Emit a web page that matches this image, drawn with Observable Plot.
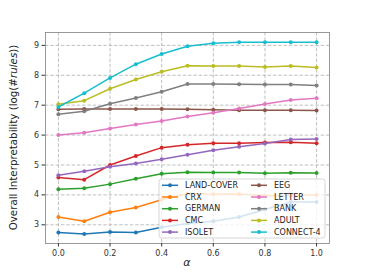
<!DOCTYPE html>
<html>
<head>
<meta charset="utf-8">
<script src="https://cdn.jsdelivr.net/npm/d3@7"></script>
<script src="https://cdn.jsdelivr.net/npm/@observablehq/plot@0.6"></script>
<style>
  html, body { margin: 0; padding: 0; background: #fff; }
  #wrap { position: relative; width: 366px; height: 274px; font-family: "DejaVu Sans", sans-serif; }
</style>
</head>
<body>
<div id="wrap"></div>
<script>
const alphas = [0.0, 0.1, 0.2, 0.3, 0.4, 0.5, 0.6, 0.7, 0.8, 0.9, 1.0];
const xTicks = [0.0, 0.2, 0.4, 0.6, 0.8, 1.0];
const yTicks = [3, 4, 5, 6, 7, 8, 9];
const seriesNames = ["LAND-COVER", "CRX", "GERMAN", "CMC", "ISOLET", "EEG", "LETTER", "BANK", "ADULT", "CONNECT-4"];
const seriesColors = ["#1f77b4", "#ff7f0e", "#2ca02c", "#d62728", "#9467bd", "#8c564b", "#e377c2", "#7f7f7f", "#bcbd22", "#17becf"];
const landCover = [2.74, 2.69, 2.76, 2.74, 2.92, 3.04, 3.12, 3.26, 3.51, 3.76, 3.76];
const crx       = [3.26, 3.12, 3.42, 3.58, 3.84, 4.05, 4.02, 4.03, 3.97, 3.99, 4.00];
const german    = [4.19, 4.22, 4.36, 4.54, 4.71, 4.76, 4.75, 4.75, 4.72, 4.74, 4.73];
const cmc       = [4.58, 4.51, 5.00, 5.30, 5.58, 5.68, 5.73, 5.73, 5.75, 5.76, 5.73];
const isolet    = [4.66, 4.79, 4.94, 5.05, 5.19, 5.34, 5.49, 5.61, 5.72, 5.85, 5.87];
const eeg       = [6.86, 6.87, 6.87, 6.87, 6.87, 6.86, 6.85, 6.83, 6.83, 6.83, 6.82];
const letter    = [6.00, 6.08, 6.22, 6.35, 6.47, 6.62, 6.75, 6.89, 7.04, 7.17, 7.23];
const bank      = [6.70, 6.80, 7.05, 7.24, 7.45, 7.71, 7.71, 7.70, 7.69, 7.69, 7.66];
const adult     = [7.03, 7.15, 7.55, 7.86, 8.12, 8.32, 8.31, 8.31, 8.28, 8.31, 8.26];
const connect4  = [6.94, 7.40, 7.91, 8.37, 8.71, 8.97, 9.07, 9.10, 9.10, 9.10, 9.10];
const seriesValues = [landCover, crx, german, cmc, isolet, eeg, letter, bank, adult, connect4];

const rows = [];
seriesNames.forEach((name, i) => {
  alphas.forEach((a, j) => rows.push({series: name, alpha: a, value: seriesValues[i][j]}));
});

const W = 366, H = 274;
const ml = 45, mr = 37, mt = 32, mb = 31;

const chart = Plot.plot({
  width: W, height: H,
  marginLeft: ml, marginRight: mr, marginTop: mt, marginBottom: mb,
  style: {fontFamily: "DejaVu Sans, sans-serif", fontSize: "8px", color: "#333", background: "#fff"},
  x: {domain: [-0.05, 1.05], label: null},
  y: {domain: [2.375, 9.43], label: null},
  color: {domain: seriesNames, range: seriesColors},
  marks: [
    Plot.gridX(xTicks, {stroke: "#b0b0b0", strokeOpacity: 1, strokeWidth: 0.8, strokeDasharray: "3.5,1.8"}),
    Plot.gridY(yTicks, {stroke: "#b0b0b0", strokeOpacity: 1, strokeWidth: 0.8, strokeDasharray: "3.5,1.8"}),
    Plot.line(rows, {x: "alpha", y: "value", z: "series", stroke: "series", strokeWidth: 1.5}),
    Plot.dot(rows, {x: "alpha", y: "value", fill: "series", r: 2, stroke: null}),
    Plot.frame({stroke: "#808080", strokeWidth: 0.8}),
    Plot.axisX(xTicks, {tickFormat: d => d.toFixed(1), tickSize: 3.5, tickPadding: 3, stroke: "#333", fill: "#333", fontSize: 8}),
    Plot.axisY(yTicks, {tickFormat: d => String(d), tickSize: 3.5, tickPadding: 3, stroke: "#333", fill: "#333", fontSize: 8})
  ]
});

const wrap = document.getElementById("wrap");
wrap.appendChild(chart);

const svg = d3.select(chart);
// y label with italic "rules"
const yl = svg.append("text")
  .attr("transform", `translate(14,${mt + (H - mt - mb) / 2}) rotate(-90)`)
  .attr("text-anchor", "middle")
  .attr("dominant-baseline", "middle")
  .attr("font-size", 10.3)
  .attr("fill", "#222")
  .attr("font-family", "DejaVu Sans, sans-serif");
yl.append("tspan").text("Overall Interpretability (log(#");
yl.append("tspan").attr("font-style", "italic").text("rules");
yl.append("tspan").text("))");

// x label
svg.append("text")
  .attr("x", ml + (W - ml - mr) / 2)
  .attr("y", 266)
  .attr("text-anchor", "middle")
  .attr("font-size", 11)
  .attr("font-style", "italic")
  .attr("fill", "#222")
  .attr("font-family", "DejaVu Sans, sans-serif")
  .text("α");

// legend
const lg = svg.append("g").attr("transform", "translate(159,179)");
lg.append("rect").attr("width", 166).attr("height", 59).attr("rx", 2.5)
  .attr("fill", "#fff").attr("fill-opacity", 0.8).attr("stroke", "#ccc").attr("stroke-width", 0.8);
seriesNames.forEach((name, i) => {
  const col = Math.floor(i / 5), row = i % 5;
  const x0 = col === 0 ? 3 : 92;
  const y0 = 6.3 + row * 11.7;
  const g = lg.append("g").attr("transform", `translate(${x0},${y0})`);
  g.append("line").attr("x1", 0).attr("x2", 16).attr("y1", 0).attr("y2", 0)
    .attr("stroke", seriesColors[i]).attr("stroke-width", 1.5);
  g.append("circle").attr("cx", 8).attr("cy", 0).attr("r", 2).attr("fill", seriesColors[i]);
  g.append("text").attr("x", 23).attr("y", 0).attr("dominant-baseline", "middle")
    .attr("text-anchor", "start")
    .attr("font-size", 8).attr("fill", "#222").attr("font-family", "DejaVu Sans, sans-serif").text(name);
});
</script>
</body>
</html>
